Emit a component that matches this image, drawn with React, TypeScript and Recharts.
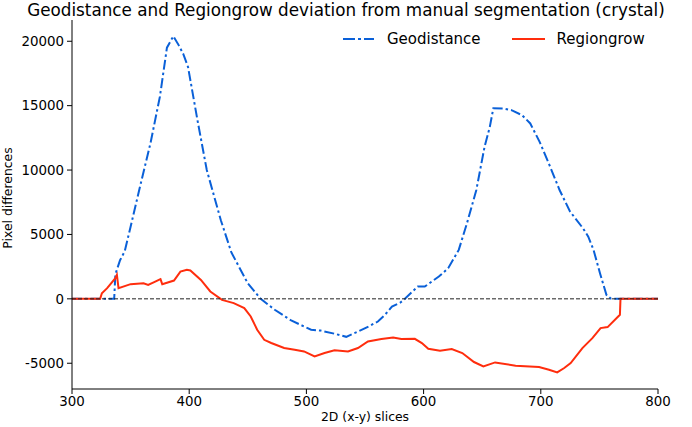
import React from 'react';
import {
  LineChart,
  Line,
  XAxis,
  YAxis,
  ReferenceLine,
} from 'recharts';

// Geodistance deviation (slice, pixel difference)
const geoSlices = [
  300, 336, 337, 341, 345, 350, 358, 367, 375, 381, 386.5, 391, 395, 399, 407, 415, 427, 436, 450, 461,
  473, 487, 504, 512, 524, 534, 541, 553, 561, 567, 573, 580, 583, 595, 601, 613, 621, 630, 637, 645,
  652, 656.5, 659.5, 668, 675, 684, 691, 699, 708, 716, 725, 736, 740.5, 745, 750.5, 756, 760, 800,
];
const geoValues = [
  0, 0, 1900, 3000, 3700, 5600, 8700, 12100, 15700, 19500, 20400, 19700, 19000, 18000, 13900, 10000, 6100, 3600, 1200, 0,
  -850, -1680, -2400, -2460, -2710, -2950, -2660, -2150, -1760, -1240, -600, -300, -80, 950, 950, 1730, 2380, 3800, 5870, 8450,
  11800, 13350, 14800, 14780, 14650, 14260, 13620, 12190, 10250, 8450, 6770, 5480, 4830, 3800, 1990, 310, 0, 0,
];

// Regiongrow deviation (slice, pixel difference)
const regionSlices = [
  300, 324, 325.5, 330, 337, 338.3, 339.7, 350, 361, 365, 371, 375.5, 377, 387, 392.5, 398, 401, 410, 418, 428,
  438, 447, 452.5, 458, 464, 470, 481, 490, 498, 507, 515.5, 524, 535.5, 544, 552.5, 564, 574, 581, 592.5, 598.5,
  604, 614, 624, 633, 643, 651, 661, 678.5, 698.5, 707, 714, 720, 725.5, 735.5, 744, 751, 757, 767.5, 768, 800,
];
const regionValues = [
  0, 0, 440, 830, 1600, 1860, 830, 1140, 1215, 1085, 1340, 1525, 1140, 1420, 2115, 2250, 2200, 1470, 570, -80,
  -335, -720, -1370, -2400, -3180, -3430, -3820, -3950, -4085, -4470, -4210, -4000, -4085, -3820, -3310, -3125, -3000, -3125, -3100, -3430,
  -3875, -4030, -3900, -4210, -4905, -5245, -4935, -5190, -5295, -5500, -5710, -5370, -4985, -3820, -3050, -2270, -2195, -1240, 0, 0,
];

const xTicks = [300, 400, 500, 600, 700, 800];
const yTicks = [-5000, 0, 5000, 10000, 15000, 20000];

const geoData = geoSlices.map((x, i) => ({ x, y: geoValues[i] }));
const regionData = regionSlices.map((x, i) => ({ x, y: regionValues[i] }));

const BLUE = '#0a60d8';
const RED = '#ff2d0d';
const FONT = '"DejaVu Sans", sans-serif';

const tickStyle = { fill: '#000', fontSize: 13.4, fontFamily: FONT };

// legend drawn by hand, top right inside the axes
const LegendBox = () => (
  <div
    style={{
      position: 'absolute',
      left: 343,
      top: 29,
      display: 'flex',
      alignItems: 'center',
      fontFamily: FONT,
      fontSize: 15,
      lineHeight: '20px',
      color: '#000',
      whiteSpace: 'nowrap',
    }}
  >
    <svg width={31} height={10} style={{ marginRight: 13 }}>
      <line x1={0} y1={5} x2={31} y2={5} stroke={BLUE} strokeWidth={2} strokeDasharray="12 3 3 3" />
    </svg>
    <span style={{ marginRight: 31 }}>Geodistance</span>
    <svg width={33} height={10} style={{ marginRight: 12 }}>
      <line x1={0} y1={5} x2={33} y2={5} stroke={RED} strokeWidth={2} />
    </svg>
    <span>Regiongrow</span>
  </div>
);

export default function App() {
  return (
    <div style={{ position: 'absolute', left: 0, top: 0, width: 692, height: 427, background: '#fff' }}>
      <LineChart width={692} height={427} margin={{ top: 20, right: 34, bottom: 0, left: 0 }}>
        <XAxis
          type="number"
          dataKey="x"
          domain={[300, 800]}
          ticks={xTicks}
          allowDataOverflow
          height={38}
          tickSize={5}
          tickMargin={2}
          tick={tickStyle}
          stroke="#000"
          tickLine={{ stroke: '#000' }}
          axisLine={{ stroke: '#000' }}
        />
        <XAxis
          xAxisId="top"
          orientation="top"
          type="number"
          domain={[300, 800]}
          height={0}
          tick={false}
          tickLine={false}
          axisLine={{ stroke: '#000' }}
        />
        <YAxis
          type="number"
          domain={[-7000, 21650]}
          ticks={yTicks}
          allowDataOverflow
          width={72}
          tickSize={5}
          tickMargin={3}
          tick={tickStyle}
          tickLine={{ stroke: '#000' }}
          axisLine={{ stroke: '#000' }}
        />
        <YAxis
          yAxisId="right"
          orientation="right"
          type="number"
          domain={[0, 1]}
          width={0}
          tick={false}
          tickLine={false}
          axisLine={{ stroke: '#000' }}
        />
        <Line
          data={geoData}
          dataKey="y"
          type="linear"
          stroke={BLUE}
          strokeWidth={2}
          strokeDasharray="10 3 2.5 3"
          dot={false}
          isAnimationActive={false}
        />
        <Line
          data={regionData}
          dataKey="y"
          type="linear"
          stroke={RED}
          strokeWidth={2}
          dot={false}
          isAnimationActive={false}
        />
        <ReferenceLine y={0} stroke="#222" strokeWidth={1} strokeDasharray="4 2" />
      </LineChart>
      <div
        style={{
          position: 'absolute',
          left: 0,
          width: 692,
          top: 0,
          textAlign: 'center',
          fontFamily: FONT,
          fontSize: 16.8,
          lineHeight: '20px',
          color: '#000',
          whiteSpace: 'nowrap',
        }}
      >
        Geodistance and Regiongrow deviation from manual segmentation (crystal)
      </div>
      <div
        style={{
          position: 'absolute',
          left: 7,
          top: 198,
          transform: 'translate(-50%, -50%) rotate(-90deg)',
          fontFamily: FONT,
          fontSize: 12.4,
          whiteSpace: 'nowrap',
          color: '#000',
        }}
      >
        Pixel differences
      </div>
      <div
        style={{
          position: 'absolute',
          left: 365,
          top: 416,
          transform: 'translate(-50%, -50%)',
          fontFamily: FONT,
          fontSize: 12.4,
          whiteSpace: 'nowrap',
          color: '#000',
        }}
      >
        2D (x-y) slices
      </div>
      <LegendBox />
    </div>
  );
}
